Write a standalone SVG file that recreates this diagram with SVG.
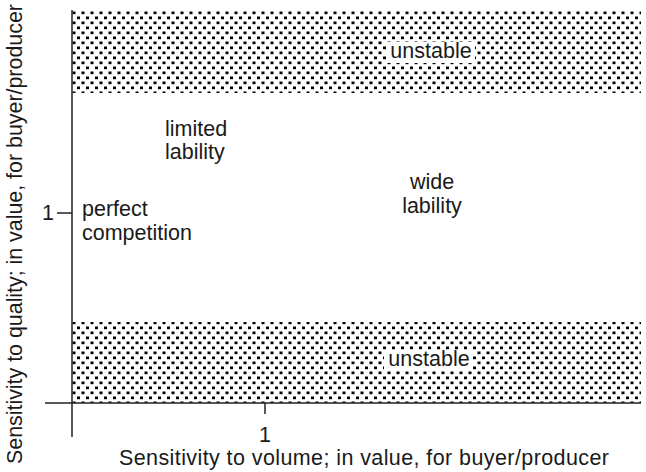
<svg xmlns="http://www.w3.org/2000/svg" width="646" height="472" viewBox="0 0 646 472">
  <style>
    text { font-family: "Liberation Sans", Arial, sans-serif; font-size: 21.5px; fill: #1a1a1a; }
    .axis { stroke: #222; stroke-width: 1.5; fill: none; }
    .band { fill: url(#dots); }
    .tagbg { fill: #fff; }
  </style>
  <defs>
    <!-- offset dot screen used for the unstable regions -->
    <pattern id="dots" x="72" y="11" width="9" height="10" patternUnits="userSpaceOnUse">
      <rect x="0.5" y="0.5" width="3" height="2.7" fill="#000"/>
      <rect x="5" y="5.5" width="3" height="2.7" fill="#000"/>
    </pattern>
  </defs>

  <!-- unstable regions -->
  <g id="band-top">
    <rect class="band" x="72" y="10" width="569" height="83"/>
    <rect class="tagbg" x="387" y="42" width="88" height="21"/>
    <text x="431" y="58" text-anchor="middle">unstable</text>
  </g>
  <g id="band-bottom">
    <rect class="band" x="72" y="322" width="569" height="81"/>
    <rect class="tagbg" x="384" y="350" width="89" height="21"/>
    <text x="429" y="366" text-anchor="middle">unstable</text>
  </g>

  <!-- region labels -->
  <g id="limited-lability">
    <text x="165" y="136">limited</text>
    <text x="165" y="159">lability</text>
  </g>
  <g id="wide-lability">
    <text x="432" y="189" text-anchor="middle">wide</text>
    <text x="432" y="213" text-anchor="middle">lability</text>
  </g>
  <g id="perfect-competition">
    <text x="82" y="216">perfect</text>
    <text x="82" y="240">competition</text>
  </g>

  <!-- axes and ticks -->
  <g id="connectors">
    <line class="axis" x1="72" y1="10" x2="72" y2="437"/>
    <line class="axis" x1="45" y1="403" x2="641" y2="403"/>
    <line class="axis" x1="57" y1="213" x2="72" y2="213"/>
    <line class="axis" x1="265" y1="403" x2="265" y2="414"/>
  </g>

  <g id="axis-labels">
    <text x="48" y="220" text-anchor="middle">1</text>
    <text x="265" y="442" text-anchor="middle">1</text>
    <text x="364" y="465" text-anchor="middle" textLength="490" lengthAdjust="spacing">Sensitivity to volume; in value, for buyer/producer</text>
    <text transform="translate(22 234) rotate(-90)" text-anchor="middle" textLength="460" lengthAdjust="spacing">Sensitivity to quality; in value, for buyer/producer</text>
  </g>
</svg>
